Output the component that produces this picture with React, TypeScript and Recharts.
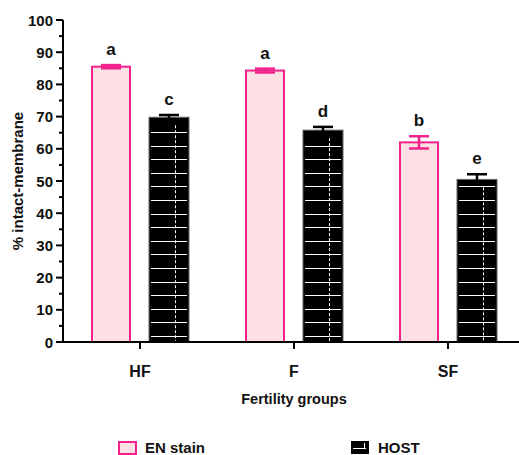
import type { ReactElement } from "react";
import { Bar, BarChart, ErrorBar, XAxis, YAxis } from "recharts";

const FONT = '"Liberation Sans", Arial, sans-serif';
const PINK = "#f2228c";
const PINK_FILL = "#fde0e3";

const groups = ["HF", "F", "SF"];
const enStain = [85.5, 84.3, 62.0];
const enErr = [0.5, 0.6, 1.9];
const hostTest = [69.8, 65.8, 50.5];
const hostErr = [0.7, 1.0, 1.6];
const enLetters = ["a", "a", "b"];
const hostLetters = ["c", "d", "e"];
const yTicks = [0, 5, 10, 15, 20, 25, 30, 35, 40, 45, 50, 55, 60, 65, 70, 75, 80, 85, 90, 95, 100];

const data = groups.map((g, i) => ({
  group: g,
  en: enStain[i],
  enErr: enErr[i],
  enLetter: enLetters[i],
  host: hostTest[i],
  hostErr: hostErr[i],
  hostLetter: hostLetters[i],
}));

function Letter({ x, top, text }: { x: number; top: number; text: string }): ReactElement {
  return (
    <text x={x} y={top - 10} textAnchor="middle" fontFamily={FONT} fontWeight="bold" fontSize={17} fill="#111">
      {text}
    </text>
  );
}

function EnBar(props: any): ReactElement {
  const { x, y, width, height, payload } = props;
  const ppu = height / payload.en;
  return (
    <g>
      <rect x={x + 1} y={y} width={width - 2} height={height} fill={PINK_FILL} stroke={PINK} strokeWidth={2} />
      <Letter x={x + width / 2} top={y - payload.enErr * ppu} text={payload.enLetter} />
    </g>
  );
}

function HostBar(props: any): ReactElement {
  const { x, y, width, height, payload } = props;
  const ppu = height / payload.host;
  const rows: number[] = [];
  for (let yy = y + height - 6; yy > y + 2; yy -= 13.6) rows.push(Math.round(yy) + 0.5);
  const dashX = Math.round(x + width * 0.65) + 0.5;
  return (
    <g>
      <rect x={x} y={y} width={width} height={height} fill="#000" stroke="#666" strokeWidth={1} />
      {rows.map((yy) => (
        <line key={yy} x1={x + 2} x2={x + width - 2} y1={yy} y2={yy} stroke="#fff" strokeWidth={1} />
      ))}
      <line x1={dashX} x2={dashX} y1={y + 8} y2={y + height} stroke="#fff" strokeWidth={1} strokeDasharray="3 2" />
      <Letter x={x + width / 2} top={y - payload.hostErr * ppu} text={payload.hostLetter} />
    </g>
  );
}

function YTick(props: any): ReactElement {
  const { x, y, payload } = props;
  const major = payload.value % 10 === 0;
  return (
    <g>
      <line x1={x - (major ? 7 : 4)} x2={x} y1={y} y2={y} stroke="#000" strokeWidth={2} />
      {major && (
        <text x={x - 10} y={y} textAnchor="end" dominantBaseline="central" fontFamily={FONT} fontWeight="bold" fontSize={15} fill="#111">
          {payload.value}
        </text>
      )}
    </g>
  );
}

function XTick(props: any): ReactElement {
  const { x, y, payload } = props;
  return (
    <g>
      <line x1={x} x2={x} y1={y} y2={y + 7} stroke="#000" strokeWidth={2} />
      <text x={x} y={y + 29} textAnchor="middle" dominantBaseline="central" fontFamily={FONT} fontWeight="bold" fontSize={16} fill="#111">
        {payload.value}
      </text>
    </g>
  );
}

function LegendRow(): ReactElement {
  const text = { fontFamily: FONT, fontWeight: "bold" as const, fontSize: 15, lineHeight: "15px", color: "#111", position: "absolute" as const, top: 440 };
  return (
    <>
      <div style={{ position: "absolute", left: 118, top: 441, width: 15, height: 10, border: `2px solid ${PINK}`, background: PINK_FILL }} />
      <div style={{ ...text, left: 145 }}>EN stain</div>
      <svg style={{ position: "absolute", left: 351, top: 441 }} width={18} height={13}>
        <rect x={0} y={0} width={18} height={13} fill="#000" />
        <line x1={2} x2={15} y1={7.5} y2={7.5} stroke="#fff" strokeWidth={1} />
        <line x1={13.5} x2={13.5} y1={2} y2={7} stroke="#fff" strokeWidth={1} />
      </svg>
      <div style={{ ...text, left: 378 }}>HOST</div>
    </>
  );
}

export default function App(): ReactElement {
  return (
    <div style={{ position: "absolute", left: 0, top: 0, width: 519, height: 455, overflow: "hidden", background: "#fff" }}>
      <BarChart width={525} height={455} data={data} margin={{ top: 20, right: 0, bottom: 43, left: 0 }} barSize={40} barGap={18}>
        <XAxis
          dataKey="group"
          height={70}
          axisLine={{ stroke: "#000", strokeWidth: 2 }}
          tickLine={false}
          tickSize={0}
          tickMargin={0}
          tick={<XTick />}
          label={{
            value: "Fertility groups",
            position: "insideBottom",
            offset: 8,
            style: { fontFamily: FONT, fontWeight: "bold", fontSize: 14.5, fill: "#111" },
          }}
        />
        <YAxis
          width={63}
          domain={[0, 100]}
          ticks={yTicks}
          interval={0}
          axisLine={{ stroke: "#000", strokeWidth: 2 }}
          tickLine={false}
          tickSize={0}
          tickMargin={0}
          tick={<YTick />}
          label={{
            value: "% intact-membrane",
            angle: -90,
            position: "insideLeft",
            offset: 18,
            style: { textAnchor: "middle", fontFamily: FONT, fontWeight: "bold", fontSize: 15, fill: "#111" },
          }}
        />
        <Bar dataKey="en" name="EN stain" shape={<EnBar />} isAnimationActive={false}>
          <ErrorBar dataKey="enErr" width={10} strokeWidth={2.5} stroke={PINK} direction="y" />
        </Bar>
        <Bar dataKey="host" name="HOST" shape={<HostBar />} isAnimationActive={false}>
          <ErrorBar dataKey="hostErr" width={10} strokeWidth={2.5} stroke="#000" direction="y" />
        </Bar>
      </BarChart>
      <LegendRow />
    </div>
  );
}
